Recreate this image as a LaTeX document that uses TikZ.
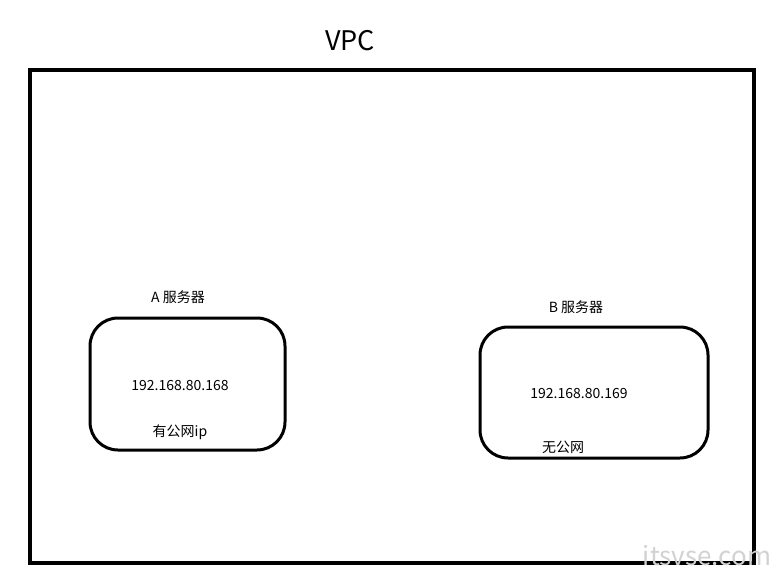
\documentclass[tikz,border=0pt]{standalone}
\usepackage{fontspec}
\setmainfont{Noto Sans CJK SC}
\begin{document}
\begin{tikzpicture}[x=1pt,y=-1pt,
  server/.style={draw,line width=3pt,rounded corners=28pt},
  lbl/.style={font=\fontsize{14}{16}\selectfont,inner sep=0pt}]
\useasboundingbox (0,0) rectangle (783,586);
\fill[white] (0,0) rectangle (783,586);
\node[font=\fontsize{27}{30}\selectfont,inner sep=0pt] (vpc) at (350,41) {VPC};
\draw[line width=4pt] (30,70) rectangle (754,563);
\draw[server] (90,318) rectangle (285,450);
\draw[server] (480,327) rectangle (708,458);
\node[lbl] (la) at (178,297) {A 服务器};
\node[lbl] (ipa) at (180,386) {192.168.80.168};
\node[lbl] (pa) at (180,432) {有公网ip};
\node[lbl] (lb) at (576,307) {B 服务器};
\node[lbl] (ipb) at (579,394) {192.168.80.169};
\node[lbl] (pb) at (563,447) {无公网};
\node[font=\fontsize{26}{28}\selectfont\itshape,text=gray!35,inner sep=0pt] (wm) at (707,556) {itsvse.com};
\end{tikzpicture}
\end{document}
